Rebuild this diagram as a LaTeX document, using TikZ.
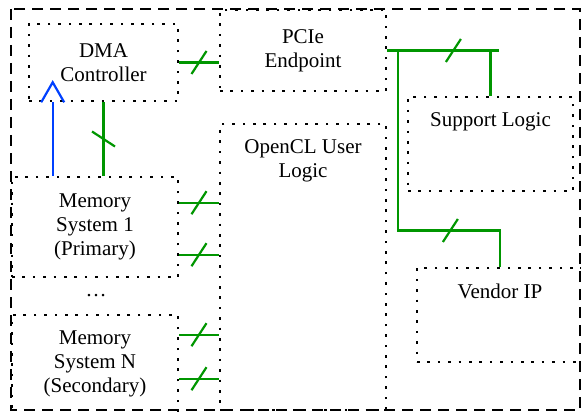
\documentclass[tikz,border=0pt]{standalone}
\usepackage{fontspec}
\setmainfont{Liberation Serif}
\definecolor{fpgaGreen}{RGB}{0,150,0}
\definecolor{fpgaBlue}{RGB}{0,64,255}
\usetikzlibrary{positioning,decorations.markings,calc}

\begin{document}
\begin{tikzpicture}[
    x=0.5pt, y=-0.5pt,
    font=\fontsize{10.5}{12}\selectfont,
    blk/.style={rectangle, draw, line width=1.3pt, dash pattern=on 1.3pt off 3.9pt,
                minimum width=83pt, align=center, inner sep=0pt},
    toptext/.style={label={[anchor=north, yshift=-5pt, align=center]north:#1}},
    link/.style={fpgaGreen, line width=1.1pt},
    bus/.style={link, postaction=decorate, decoration={markings,
                mark=at position #1 with {\draw (-3.75pt,-5.75pt) -- (3.75pt,5.75pt);}}},
    bus/.default=0.5,
    ctrl/.style={fpgaBlue, line width=1.1pt, postaction=decorate, decoration={markings,
                mark=at position 1 with {\draw (0pt,5.75pt) -- (10pt,0pt) -- (0pt,-5.75pt);}}}
  ]
  \useasboundingbox (0,0) rectangle (581,411);
  \draw[line width=1pt, dash pattern=on 5.5pt off 3.5pt] (11,9) rectangle (580,410);

  \node[blk, minimum width=74.5pt, minimum height=38.5pt] (dma) at (103.5,62.5) {DMA\\Controller};
  \node[blk, minimum height=40.5pt] (pcie) at (303,50.5) {PCIe\\Endpoint};
  \node[blk, minimum height=143pt, toptext={OpenCL User\\Logic}] (ocl) at (303,267) {};
  \node[blk, minimum width=82.5pt, minimum height=47pt, toptext={Support Logic}] (supp) at (490.5,144) {};
  \node[blk, minimum height=47pt, toptext={Vendor IP}] (vend) at (500,315) {};
  \node[blk, minimum height=50pt] (mem1) at (95,227) {Memory\\System 1\\(Primary)};
  \node (gap) at (96,296) {\dots};
  \node[blk, minimum height=49pt] (memn) at (95,364) {Memory\\System N\\(Secondary)};

  \path (mem1.north west) ++(21pt,0pt) coordinate (irq);
  \draw[ctrl] (irq) -- (irq |- dma.south);

  \draw[bus] (dma.east) -- (dma.east -| pcie.west);
  \draw[bus] (dma.south) -- (dma.south |- mem1.north);

  \path (mem1.north east) ++(0pt,-13.5pt) coordinate (m1a) ++(0pt,-26pt) coordinate (m1b);
  \path (memn.north east) ++(0pt,-10.5pt) coordinate (mna) ++(0pt,-22pt) coordinate (mnb);
  \draw[bus] (m1a) -- (m1a -| ocl.west);
  \draw[bus] (m1b) -- (m1b -| ocl.west);
  \draw[bus] (mna) -- (mna -| ocl.west);
  \draw[bus] (mnb) -- (mnb -| ocl.west);

  \path (pcie.east) ++(56pt,0pt) coordinate (busend);
  \path (pcie.east) ++(5.5pt,0pt) coordinate (tap) ++(0pt,-90pt) coordinate (knee);
  \draw[bus=0.59] (pcie.east) -- (busend);
  \draw[link] (supp.north) -- (supp.north |- pcie.east);
  \draw[bus=0.73] (tap) |- (vend.north |- knee) -- (vend.north);
\end{tikzpicture}
\end{document}
